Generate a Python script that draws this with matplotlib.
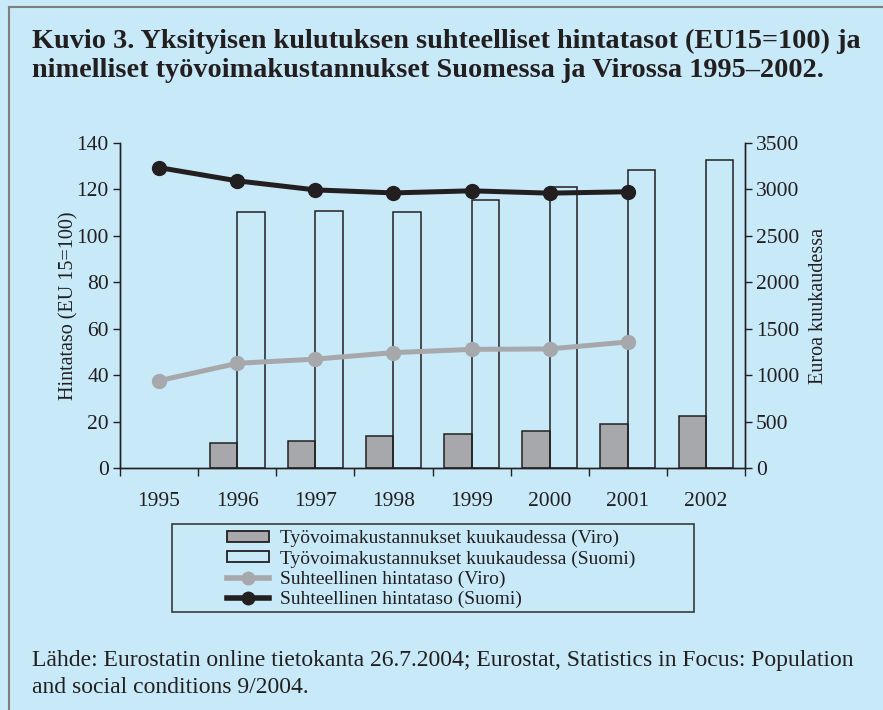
import numpy as np
import matplotlib
matplotlib.use("Agg")
from matplotlib import pyplot as plt
from matplotlib.lines import Line2D
from matplotlib.patches import Patch, Rectangle

# data
years = ['1995', '1996', '1997', '1998', '1999', '2000', '2001', '2002']
price_fi = [129.4, 123.7, 119.8, 118.5, 119.4, 118.4, 119.0]   # EU15=100
price_ee = [37.6, 45.1, 46.9, 49.7, 51.1, 51.3, 54.3]
labour_ee = [np.nan, 272, 287, 345, 366, 402, 477, 563]      # euroa/kk
labour_fi = [np.nan, 2762, 2765, 2762, 2883, 3023, 3206, 3317]

bg = '#c8e9f8'
dark = '#231f20'
grey = '#a7a8ab'
plt.rcParams['font.family'] = ['Liberation Serif', 'DejaVu Serif']

fig = plt.figure(figsize=(8.83, 7.10), dpi=100, facecolor=bg)
ax = fig.add_axes([120/883, 1-468/710, 625/883, 325/710])
ax2 = ax.twinx()
ax.set_zorder(2)
ax.patch.set_visible(False)

x = np.arange(len(years))
w = 0.35
ax2.bar(x - w/2, labour_ee, w, color=grey, edgecolor=dark, linewidth=1.1)
ax2.bar(x + w/2, labour_fi, w, color='none', edgecolor=dark, linewidth=1.1)

xl = x[:len(price_fi)]
ax.plot(xl, price_ee, color=grey, lw=3.6, marker='o', ms=10, solid_capstyle='butt')
ax.plot(xl, price_fi, color=dark, lw=3.6, marker='o', ms=10, solid_capstyle='butt')

ax.set_xlim(-0.5, len(years) - 0.5)
ax.set_ylim(0, 140)
ax2.set_ylim(0, 3500)
ax.set_yticks(range(0, 141, 20))
ax2.set_yticks(range(0, 3501, 500))
ax.set_xticks(x)
ax.set_xticklabels(years)
ax.set_xticks(np.arange(-0.5, len(years)), minor=True)

for a in (ax, ax2):
    a.spines['top'].set_visible(False)
    for s in a.spines.values():
        s.set_color(dark)
        s.set_linewidth(1.0)
ax.tick_params(axis='y', length=5, width=1, color=dark, labelsize=15.5, pad=3, labelcolor=dark)
ax2.tick_params(axis='y', length=5, width=1, color=dark, labelsize=15.5, pad=3, labelcolor=dark)
ax.tick_params(axis='x', which='major', length=0, labelsize=15.5, pad=17, labelcolor=dark)
ax.tick_params(axis='x', which='minor', length=6, width=1, color=dark)

ax.set_ylabel('Hintataso (EU 15=100)', fontsize=14.5, color=dark)
ax2.set_ylabel('Euroa kuukaudessa', fontsize=14.5, color=dark)
ax.yaxis.set_label_coords(-0.067, 0.5)
ax2.yaxis.set_label_coords(1.102, 0.5)

handles = [
    Patch(facecolor=grey, edgecolor=dark, linewidth=1.3),
    Patch(facecolor='none', edgecolor=dark, linewidth=1.3),
    Line2D([], [], color=grey, lw=4, marker='o', ms=9),
    Line2D([], [], color=dark, lw=4, marker='o', ms=9),
]
labels = ['Työvoimakustannukset kuukaudessa (Viro)',
          'Työvoimakustannukset kuukaudessa (Suomi)',
          'Suhteellinen hintataso (Viro)',
          'Suhteellinen hintataso (Suomi)']
leg = fig.legend(handles, labels, loc='upper left', bbox_to_anchor=(227/883, 1-530/710),
                 frameon=False, fontsize=14, handlelength=2.15, handleheight=0.45,
                 labelspacing=0.15, borderpad=0, borderaxespad=0, handletextpad=0.55,
                 labelcolor=dark)
fig.add_artist(Rectangle((172/883, 1-612/710), 522/883, 88/710, transform=fig.transFigure,
                         facecolor='none', edgecolor='#3a3a3a', lw=1.2))

fig.text(32/883, 1-29/710, 'Kuvio 3. Yksityisen kulutuksen suhteelliset hintatasot (EU15=100) ja\n'
         'nimelliset työvoimakustannukset Suomessa ja Virossa 1995–2002.',
         fontsize=20.3, fontweight='bold', va='top', ha='left', color=dark, linespacing=1.2)

fig.text(32/883, 1-650/710, 'Lähde: Eurostatin online tietokanta 26.7.2004; Eurostat, Statistics in Focus: Population\n'
         'and social conditions 9/2004.',
         fontsize=17, va='top', ha='left', color=dark, linespacing=1.4)

# frame
fig.add_artist(Line2D([9/883, 1], [1-7/710, 1-7/710], color='#7f7f7f', lw=1.5))
fig.add_artist(Line2D([9/883, 9/883], [1-7/710, 0], color='#7f7f7f', lw=1.5))

fig.savefig('out.png', dpi=100, facecolor=bg)
